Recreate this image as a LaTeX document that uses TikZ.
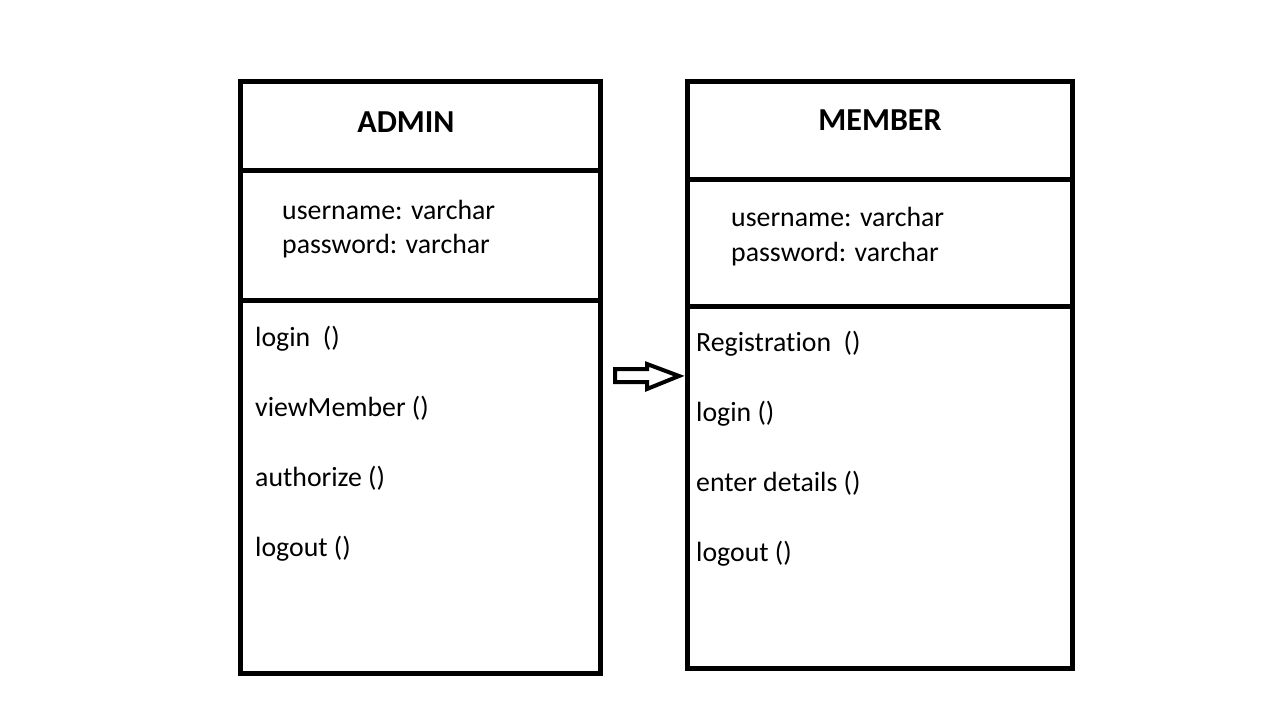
\documentclass[tikz,border=0pt]{standalone}
\usepackage{fontspec}
\setmainfont[Ligatures=NoCommon]{Carlito}
\begin{document}
\begin{tikzpicture}[x=1pt,y=-1pt,
  classbox/.style={draw, line width=5pt, inner sep=0pt, outer sep=0pt, anchor=north west},
  divider/.style={line width=5pt},
  title/.style={anchor=base, inner sep=0pt, font=\fontsize{32}{38}\selectfont\bfseries},
  member/.style={anchor=base west, inner sep=0pt, font=\fontsize{27.8}{33}\selectfont},
  blockarrow/.style={draw, line width=4pt, line join=miter, fill=white}]
\useasboundingbox (0,0) rectangle (1273,726);
% ADMIN
\node[classbox, minimum width=360pt, minimum height=592pt] (admin) at (240.5,81.5) {};
\draw[divider] (240.5,170.8) -- (600.5,170.8);
\draw[divider] (240.5,300) -- (600.5,300);
\node[title] (atitle) at (406,132) {ADMIN};
\node[member] (au) at (282,219) {username: varchar};
\node[member] (ap) at (282,253) {password: varchar};
\node[member] (a1) at (255,346.7) {login\ \ ()};
\node[member] (a2) at (255,416.7) {viewMember ()};
\node[member] (a3) at (255,486.7) {authorize ()};
\node[member] (a4) at (255,556.7) {logout ()};
% MEMBER
\node[classbox, minimum width=385pt, minimum height=586.7pt] (memb) at (687.5,81.8) {};
\draw[divider] (687.5,179) -- (1072.5,179);
\draw[divider] (687.5,306.7) -- (1072.5,306.7);
\node[title] (mtitle) at (880,130) {MEMBER};
\node[member] (mu) at (731,226) {username: varchar};
\node[member] (mp) at (731,261) {password: varchar};
\node[member] (m1) at (696,351) {Registration\ \ ()};
\node[member] (m2) at (696,421.7) {login ()};
\node[member] (m3) at (696,491.7) {enter details ()};
\node[member] (m4) at (696,561.7) {logout ()};
% block arrow
\coordinate (tail) at (615,375.5);
\coordinate (tip) at (679,376);
\draw[blockarrow] (tail |- 0,369) -- (647,369) -- (647,364) -- (tip) -- (647,389) -- (647,382) -- (tail |- 0,382) -- cycle;
\end{tikzpicture}
\end{document}
